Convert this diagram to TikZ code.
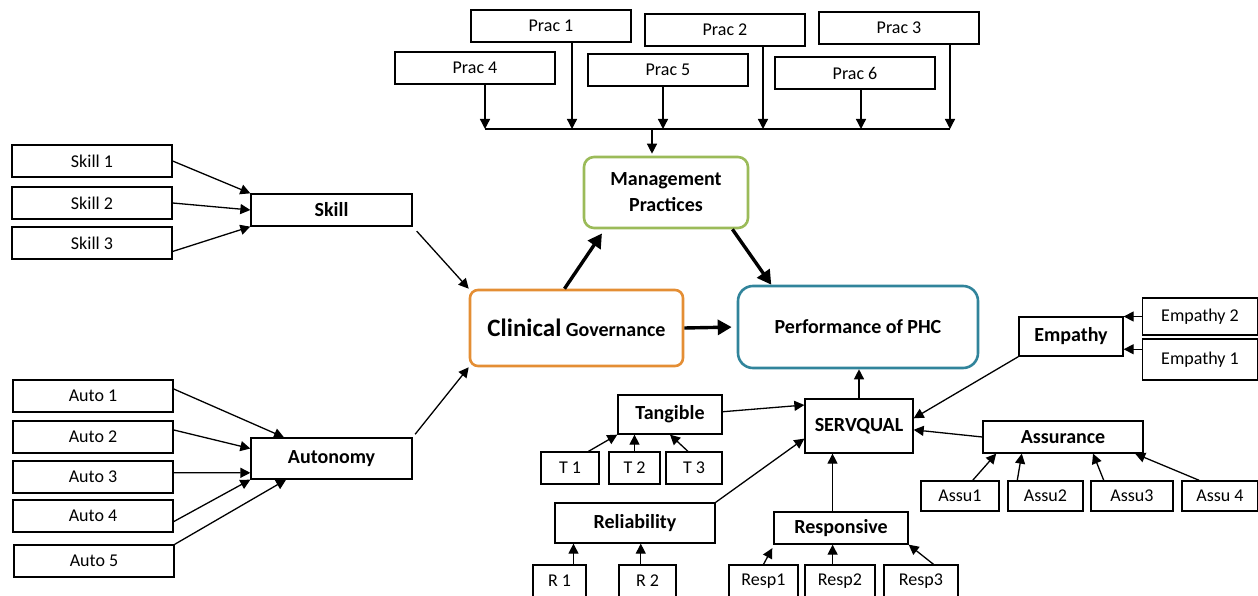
\documentclass[tikz,border=0pt]{standalone}
\usepackage{fontspec}
\setmainfont{Carlito}
\usepackage{tikz}
\usetikzlibrary{arrows.meta}

\definecolor{mpgreen}{RGB}{155,187,89}
\definecolor{cgorange}{RGB}{228,142,52}
\definecolor{phcteal}{RGB}{49,132,155}

\begin{document}
\begin{tikzpicture}[x=1pt, y=-1pt,
    box/.style = {draw, line width=1.3pt, minimum height=32pt, inner sep=0pt, font=\fontsize{18}{20}\selectfont},
    head/.style = {box, font=\fontsize{20}{22}\selectfont\bfseries},
    core/.style = {draw, line width=2.6pt, rounded corners=10pt, inner sep=0pt, align=center, font=\fontsize{20}{26}\selectfont\bfseries},
    arr/.style = {-{Triangle[length=10pt,width=10pt]}, line width=1.3pt},
    bigarr/.style = {-{Triangle[length=14pt,width=15pt]}, line width=3.4pt}]
            \useasboundingbox (0,0) rectangle (1258,596);

            \node[box, minimum width=160pt] (P1) at (551,26) {Prac 1};
            \node[box, minimum width=160pt] (P2) at (725,30) {Prac 2};
            \node[box, minimum width=160pt] (P3) at (899,28) {Prac 3};
            \node[box, minimum width=160pt] (P4) at (475,68) {Prac 4};
            \node[box, minimum width=160pt] (P5) at (668,70) {Prac 5};
            \node[box, minimum width=160pt] (P6) at (855,73) {Prac 6};

            \node[box, minimum width=160pt] (S1) at (92,161) {Skill 1};
            \node[box, minimum width=160pt] (S2) at (92,203) {Skill 2};
            \node[box, minimum width=160pt] (S3) at (92,243) {Skill 3};
            \node[head, minimum width=161pt] (Skill) at (331.5,210) {Skill};

            \node[box, minimum width=160pt] (A1) at (93,396) {Auto 1};
            \node[box, minimum width=160pt] (A2) at (93,437) {Auto 2};
            \node[box, minimum width=160pt] (A3) at (93,477) {Auto 3};
            \node[box, minimum width=160pt] (A4) at (93,516) {Auto 4};
            \node[box, minimum width=160pt] (A5) at (94,561) {Auto 5};
            \node[head, minimum width=161pt, minimum height=41pt] (Auto) at (331.5,458.5) {Autonomy};

            \node[core, draw=mpgreen, minimum width=164pt, minimum height=71pt] (MP) at (666,192.5) {Management\\Practices};
            \node[core, draw=cgorange, rounded corners=8pt, minimum width=213pt, minimum height=76pt] (CG) at (576.5,328) {{\fontsize{25}{28}\selectfont Clinical} Governance};
            \node[core, draw=phcteal, rounded corners=15pt, minimum width=240pt, minimum height=82pt] (PHC) at (858,327) {Performance of PHC};

            \node[head, minimum width=108pt, minimum height=54pt] (SQ) at (859,426) {SERVQUAL};
            \node[head, minimum width=104pt, minimum height=39pt] (Tan) at (670,414.5) {Tangible};
            \node[box, minimum width=58pt] (T1) at (570,468) {T 1};
            \node[box, minimum width=51pt] (T2) at (634.5,468) {T 2};
            \node[box, minimum width=56pt] (T3) at (694,468) {T 3};

            \node[head, minimum width=160pt, minimum height=40pt] (Rel) at (635,523) {Reliability};
            \node[box, minimum width=53pt] (R1) at (559.5,581) {R 1};
            \node[box, minimum width=57pt] (R2) at (647.5,581) {R 2};

            \node[head, minimum width=134pt] (Resp) at (841,528) {Responsive};
            \node[box, minimum width=69pt] (Rs1) at (763.5,581) {Resp1};
            \node[box, minimum width=70pt] (Rs2) at (840,581) {Resp2};
            \node[box, minimum width=74pt] (Rs3) at (921,581) {Resp3};

            \node[head, minimum width=104pt, minimum height=39pt] (Emp) at (1071,336.5) {Empathy};
            \node[box, minimum width=115pt, minimum height=37pt] (E2) at (1200,316.5) {Empathy 2};
            \node[box, minimum width=115pt, minimum height=41pt] (E1) at (1200,359.5) {Empathy 1};

            \node[head, minimum width=160pt] (Asr) at (1063,437) {Assurance};
            \node[box, minimum width=78pt, minimum height=30pt] (As1) at (960,496) {Assu1};
            \node[box, minimum width=75pt, minimum height=30pt] (As2) at (1045.5,496) {Assu2};
            \node[box, minimum width=82pt, minimum height=30pt] (As3) at (1132,496) {Assu3};
            \node[box, minimum width=76pt, minimum height=30pt] (As4) at (1220,496) {Assu 4};

            % practice bus
            \coordinate (b4) at (485,129);
            \coordinate (b1) at (572,129);
            \coordinate (b5) at (663,129);
            \coordinate (b2) at (763,129);
            \coordinate (b6) at (861,129);
            \coordinate (b3) at (950,129);
            \coordinate (bM) at (652,129);
            \draw[line width=1.3pt] (b4) -- (b3);
            \path[arr] (P4.south -| b4) edge (b4);
            \path[arr] (P1.south -| b1) edge (b1);
            \path[arr] (P5.south -| b5) edge (b5);
            \path[arr] (P2.south -| b2) edge (b2);
            \path[arr] (P6.south -| b6) edge (b6);
            \path[arr] (P3.south -| b3) edge (b3);
            \path[arr, shorten >=2pt] (bM) edge (bM |- MP.north);

            % skill
            \path[arr] (S1.east) edge (Skill.north west);
            \path[arr] (S2.east) edge (Skill.west);
            \path[arr] (S3.-6) edge (Skill.south west);
            \path[arr, shorten <=6pt] (Skill.south east) edge (CG.north west);

            % autonomy
            \path[arr] (A1.5) edge (Auto.156);
            \path[arr] (A2.5) edge (Auto.173);
            \path[arr] (A3.3) edge (Auto.-170);
            \path[arr] (A4.-4) edge (Auto.south west);
            \path[arr] (A5.north east) edge (Auto.-155);
            \path[arr, shorten <=4pt] (Auto.north east) edge (CG.south west);

            % core model
            \path[bigarr, shorten >=5pt] (CG.107) edge (MP.-149);
            \path[bigarr] (MP.-29) edge (PHC.154);
            \path[bigarr, shorten >=5pt] (CG.east) edge (PHC.west);
            \path[arr] (SQ.north) edge (SQ.north |- PHC.south);

            % servqual
            \path[arr] (Tan.3) edge (SQ.159);
            \path[arr] (T1.42) edge (Tan.south west);
            \path[arr] (T2.north) edge (T2.north |- Tan.south);
            \path[arr] (T3.110) edge (Tan.south);
            \path[arr] (Rel.north east) edge (SQ.-167);
            \path[arr] (R1.50) edge (R1.50 |- Rel.south);
            \path[arr] (R2.112) edge (R2.112 |- Rel.south);
            \path[arr] (Resp.117) edge (Resp.117 |- SQ.south);
            \path[arr, shorten >=4pt] (Rs1.north) edge (Resp.-166);
            \path[arr] (Rs2.114) edge (Rs2.114 |- Resp.south);
            \path[arr] (Rs3.53) edge (Resp.south east);
            \path[arr] (E2.west) edge (E2.west -| Emp.east);
            \path[arr] (E1.170) edge (E1.170 -| Emp.east);
            \path[arr] (Emp.south west) edge (SQ.8);
            \path[arr] (Asr.west) edge (SQ.-4);
            \path[arr] (As1.51) edge (Asr.-166);
            \path[arr] (As2.151) edge (Asr.-158);
            \path[arr] (As3.151) edge (Asr.-29);
            \path[arr] (As4.143) edge (Asr.-13);
        \end{tikzpicture}
\end{document}
